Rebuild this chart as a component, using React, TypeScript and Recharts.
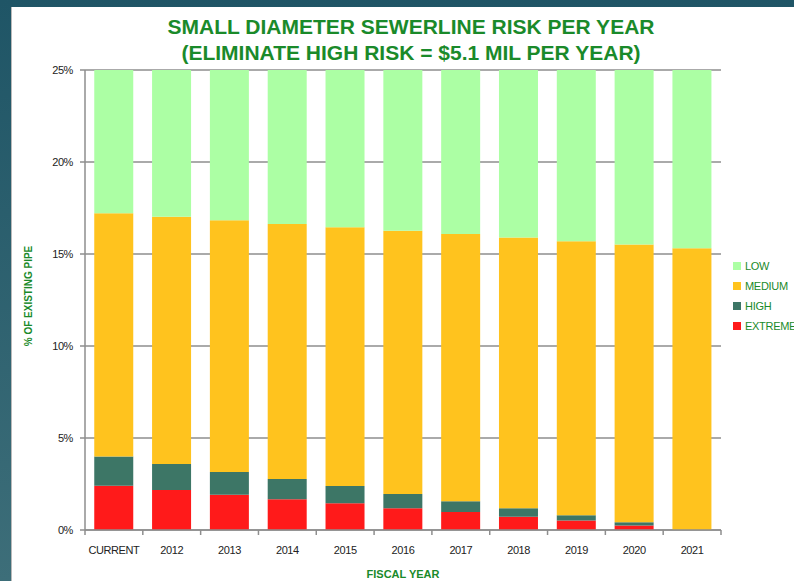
import React from "react";
import {
  BarChart,
  Bar,
  XAxis,
  YAxis,
  CartesianGrid,
  Label,
} from "recharts";

// fiscal years on the x axis
const years = ["CURRENT", "2012", "2013", "2014", "2015", "2016", "2017", "2018", "2019", "2020", "2021"];

// % of existing pipe per risk class (stack segments, bottom to top)
const extreme = [2.41, 2.17, 1.92, 1.67, 1.45, 1.18, 0.98, 0.72, 0.51, 0.25, 0];
const high = [1.59, 1.42, 1.23, 1.1, 0.94, 0.78, 0.58, 0.46, 0.29, 0.17, 0];
const medium = [13.21, 13.44, 13.68, 13.86, 14.06, 14.3, 14.53, 14.71, 14.89, 15.09, 15.31];
const low = [7.79, 7.97, 8.17, 8.37, 8.55, 8.74, 8.91, 9.11, 9.31, 9.49, 9.69];

const yTicks = [0, 5, 10, 15, 20, 25];

// stack order bottom to top
const series = [
  { key: "EXTREME", color: "#ff1a1a" },
  { key: "HIGH", color: "#3d7666" },
  { key: "MEDIUM", color: "#ffc31e" },
  { key: "LOW", color: "#acffa4" },
];

const GREEN_TEXT = "#1a8a2a";
const GRID = "#8e8e8e";
const FONT = "Liberation Sans, Arial, sans-serif";

// chart box
const W = 794;
const H = 581;
const MARGIN = { top: 70, right: 73, bottom: 21, left: 25 };
const Y_AXIS_W = 60;
const PLOT_W = W - MARGIN.left - MARGIN.right - Y_AXIS_W;
const STEP = PLOT_W / years.length;

const data = years.map((year, i) => ({
  year,
  EXTREME: extreme[i],
  HIGH: high[i],
  MEDIUM: medium[i],
  LOW: low[i],
}));

// x tick: label under the category, tick marks on the category borders (excel style)
function XTick(props: any) {
  const { x, y, payload, index } = props;
  const last = index === years.length - 1;
  return (
    <g>
      <line x1={x - STEP / 2} x2={x - STEP / 2} y1={y - 5} y2={y} stroke={GRID} strokeWidth={1.5} />
      {last && (
        <line x1={x + STEP / 2} x2={x + STEP / 2} y1={y - 5} y2={y} stroke={GRID} strokeWidth={1.5} />
      )}
      <text
        x={x}
        y={y + 19}
        textAnchor="middle"
        fontSize={11}
        letterSpacing={-0.4}
        fill="#222"
        fontFamily={FONT}
      >
        {payload.value}
      </text>
    </g>
  );
}

function YLabel(props: any) {
  const { viewBox } = props;
  const cx = viewBox.x + 3;
  const cy = viewBox.y + viewBox.height / 2 - 4;
  return (
    <text
      x={cx}
      y={cy}
      transform={`rotate(-90, ${cx}, ${cy})`}
      textAnchor="middle"
      dominantBaseline="central"
      fontSize={10}
      fontWeight="bold"
      fill={GREEN_TEXT}
      fontFamily={FONT}
    >
      % OF EXISTING PIPE
    </text>
  );
}

export default function App() {
  return (
    <div
      style={{
        position: "relative",
        width: W,
        height: H,
        overflow: "hidden",
        background: "linear-gradient(#1f5566, #3d6e79)",
      }}
    >
      <style>{"body{margin:0}"}</style>
      <div
        style={{
          position: "absolute",
          left: 11,
          top: 7,
          right: 0,
          bottom: 0,
          background: "#fff",
          borderLeft: "1px solid #b9b9b9",
        }}
      />
      <div
        style={{
          position: "absolute",
          left: 11,
          top: 14,
          width: 800,
          textAlign: "center",
          fontFamily: FONT,
          fontWeight: "bold",
          fontSize: 21,
          lineHeight: "26px",
          color: GREEN_TEXT,
        }}
      >
        SMALL DIAMETER SEWERLINE RISK PER YEAR
        <br />
        (ELIMINATE HIGH RISK = $5.1 MIL PER YEAR)
      </div>
      <div style={{ position: "absolute", left: 0, top: 0 }}>
        <BarChart width={W} height={H} data={data} margin={MARGIN} barCategoryGap="16%">
          <CartesianGrid vertical={false} stroke={GRID} strokeWidth={1.5} />
          <XAxis
            dataKey="year"
            tick={<XTick />}
            tickLine={false}
            tickSize={5}
            tickMargin={0}
            height={30}
            axisLine={{ stroke: GRID, strokeWidth: 1.5 }}
            interval={0}
          />
          <YAxis
            width={Y_AXIS_W}
            domain={[0, 25]}
            ticks={yTicks}
            tickFormatter={(v) => `${v}%`}
            tickSize={5}
            tickMargin={7}
            tickLine={{ stroke: GRID, strokeWidth: 1.5 }}
            axisLine={{ stroke: GRID, strokeWidth: 1.5 }}
            tick={{ fontSize: 11, fill: "#222", fontFamily: FONT, letterSpacing: -0.4 }}
          >
            <Label content={<YLabel />} />
          </YAxis>
          {series.map((s) => (
            <Bar key={s.key} dataKey={s.key} stackId="risk" fill={s.color} isAnimationActive={false} />
          ))}
        </BarChart>
      </div>
      {/* legend, top of stack first; the last label runs off the right edge as in the original */}
      <div style={{ position: "absolute", left: 733, top: 256, fontFamily: FONT }}>
        {series
          .slice()
          .reverse()
          .map((s) => (
            <div key={s.key} style={{ display: "flex", alignItems: "center", height: 20, whiteSpace: "nowrap" }}>
              <span style={{ width: 8, height: 8, background: s.color, marginRight: 4 }} />
              <span style={{ fontSize: 11, color: GREEN_TEXT, letterSpacing: -0.3 }}>{s.key}</span>
            </div>
          ))}
      </div>
      <div
        style={{
          position: "absolute",
          left: MARGIN.left + Y_AXIS_W,
          width: PLOT_W,
          top: 568,
          textAlign: "center",
          fontFamily: FONT,
          fontWeight: "bold",
          fontSize: 11,
          color: GREEN_TEXT,
        }}
      >
        FISCAL YEAR
      </div>
    </div>
  );
}
